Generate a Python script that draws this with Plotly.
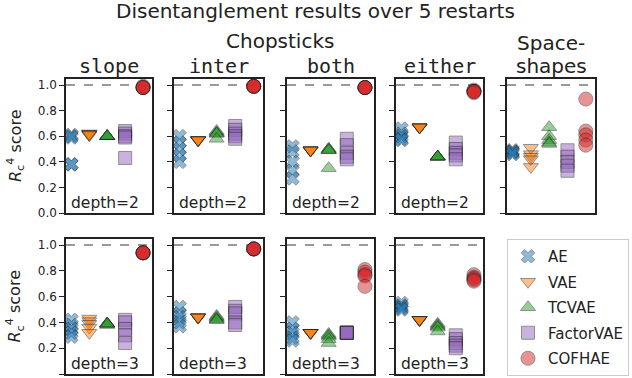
import plotly.graph_objects as go

# ---------------- data ----------------
methods = ["AE", "VAE", "TCVAE", "FactorVAE", "COFHAE"]
row1_titles = ["slope", "inter", "both", "either"]
row1_depth = ["depth=2", "depth=2", "depth=2", "depth=2", ""]
row2_depth = ["depth=3", "depth=3", "depth=3", "depth=3"]

# scores per method (AE, VAE, TCVAE, FactorVAE, COFHAE), 5 restarts each
slope_d2 = [[0.61, 0.60, 0.59, 0.38, 0.38], [0.62, 0.62, 0.61, 0.62, 0.61],
            [0.60, 0.60, 0.60, 0.60, 0.60], [0.64, 0.62, 0.60, 0.59, 0.43],
            [0.98, 0.98, 0.99, 0.98, 0.98]]
inter_d2 = [[0.60, 0.55, 0.50, 0.45, 0.40], [0.57, 0.57, 0.57, 0.57, 0.57],
            [0.64, 0.63, 0.62, 0.62, 0.58], [0.68, 0.65, 0.62, 0.60, 0.58],
            [0.99, 0.99, 0.99, 0.99, 0.99]]
both_d2 = [[0.52, 0.48, 0.40, 0.33, 0.27], [0.49, 0.49, 0.49, 0.49, 0.49],
           [0.50, 0.50, 0.49, 0.49, 0.35], [0.58, 0.53, 0.47, 0.44, 0.42],
           [0.98, 0.98, 0.98, 0.98, 0.98]]
either_d2 = [[0.66, 0.62, 0.60, 0.58, 0.57], [0.67, 0.67, 0.67, 0.67, 0.67],
             [0.44, 0.44, 0.44, 0.44, 0.44], [0.55, 0.50, 0.47, 0.45, 0.42],
             [0.96, 0.95, 0.95, 0.95, 0.94]]
shapes_d2 = [[0.49, 0.48, 0.47, 0.48, 0.46], [0.51, 0.46, 0.44, 0.42, 0.36],
             [0.67, 0.60, 0.57, 0.55, 0.54], [0.49, 0.44, 0.40, 0.37, 0.33],
             [0.89, 0.64, 0.61, 0.57, 0.53]]
slope_d3 = [[0.42, 0.38, 0.35, 0.32, 0.29], [0.43, 0.41, 0.39, 0.36, 0.32],
            [0.39, 0.39, 0.39, 0.38, 0.39], [0.42, 0.40, 0.35, 0.30, 0.24],
            [0.94, 0.94, 0.94, 0.94, 0.94]]
inter_d3 = [[0.52, 0.47, 0.44, 0.40, 0.37], [0.44, 0.44, 0.44, 0.44, 0.44],
            [0.45, 0.44, 0.43, 0.42, 0.42], [0.52, 0.49, 0.47, 0.40, 0.38],
            [0.97, 0.97, 0.97, 0.97, 0.97]]
both_d3 = [[0.40, 0.35, 0.32, 0.28, 0.26], [0.32, 0.32, 0.32, 0.32, 0.32],
           [0.31, 0.30, 0.29, 0.27, 0.24], [0.32, 0.32, 0.32, 0.32, 0.32],
           [0.81, 0.79, 0.77, 0.76, 0.68]]
either_d3 = [[0.55, 0.53, 0.52, 0.51, 0.50], [0.42, 0.42, 0.42, 0.42, 0.42],
             [0.39, 0.38, 0.37, 0.36, 0.33], [0.30, 0.27, 0.24, 0.22, 0.20],
             [0.77, 0.75, 0.74, 0.73, 0.72]]

rows_data = [[slope_d2, inter_d2, both_d2, either_d2, shapes_d2],
             [slope_d3, inter_d3, both_d3, either_d3]]
y_ticks = [0.0, 0.2, 0.4, 0.6, 0.8, 1.0]

# ---------------- style ----------------
colors = ["#1f77b4", "#ff7f0e", "#2ca02c", "#9467bd", "#d62728"]
symbols = ["x", "triangle-down", "triangle-up", "square", "circle"]
sizes = [12, 13, 13, 13, 14]
W, H = 632, 378
col_px = [(66, 152), (174, 263), (287, 374), (396, 483), (507, 595)]
row_px = [(79, 213), (239, 374)]
TXT = "#222222"
FONT = "DejaVu Sans"
MONO = "DejaVu Sans Mono"


def fx(p):
    return p / W


def fy(p):
    return 1 - p / H


def label(text, x, y, size, family=FONT, angle=0):
    return dict(text=text, xref="paper", yref="paper", x=fx(x), y=fy(y),
                xanchor="center", yanchor="middle", showarrow=False, textangle=angle,
                font=dict(family=family, size=size, color=TXT))


fig = go.Figure()
annotations = []
shapes = []
k = 0
for r, panels in enumerate(rows_data):
    for c, pdata in enumerate(panels):
        k += 1
        xa = "x" if k == 1 else f"x{k}"
        ya = "y" if k == 1 else f"y{k}"
        xkey = "xaxis" if k == 1 else f"xaxis{k}"
        ykey = "yaxis" if k == 1 else f"yaxis{k}"
        fig.update_layout({
            xkey: dict(domain=[fx(col_px[c][0]), fx(col_px[c][1])], anchor=ya,
                       range=[-0.3, 4.5], showticklabels=False, ticks="",
                       showgrid=False, zeroline=False, showline=True, mirror=True,
                       linecolor=TXT, linewidth=1.5, automargin=False),
            ykey: dict(domain=[fy(row_px[r][1]), fy(row_px[r][0])], anchor=xa,
                       range=[0, 1.047], tickvals=y_ticks, tickformat=".1f",
                       showticklabels=(c == 0), ticks="outside", ticklen=5,
                       tickwidth=1.2, tickcolor=TXT,
                       tickfont=dict(family=FONT, size=12, color=TXT),
                       showgrid=False, zeroline=False, showline=True, mirror=True,
                       linecolor=TXT, linewidth=1.5, automargin=False),
        })
        shapes.append(dict(type="line", xref=f"{xa} domain", yref=ya, x0=0, x1=1,
                           y0=1.0, y1=1.0, line=dict(color="#9a9a9a", width=2, dash="dash"),
                           layer="below"))
        for m, vals in enumerate(pdata):
            fig.add_trace(go.Scatter(
                x=[m] * len(vals), y=vals, xaxis=xa, yaxis=ya, mode="markers",
                name=methods[m], legendgroup=methods[m], showlegend=(k == 1),
                cliponaxis=False,
                marker=dict(symbol=symbols[m], size=sizes[m], color=colors[m],
                            opacity=0.5, line=dict(color="#222222", width=1)),
            ))
        depth = row1_depth[c] if r == 0 else row2_depth[c]
        if depth:
            annotations.append(dict(text=depth, xref=f"{xa} domain", yref=ya, x=0.03,
                                    y=0.08, xanchor="left", yanchor="middle",
                                    showarrow=False,
                                    font=dict(family=FONT, size=15.5, color=TXT)))
        if r == 0 and c < 4:
            annotations.append(label(row1_titles[c], (col_px[c][0] + col_px[c][1]) / 2,
                                     66, 20, MONO))
    annotations.append(label("<i>R</i><sub>c</sub><sup>4</sup> score", 15,
                             (row_px[r][0] + row_px[r][1]) / 2, 16, angle=-90))

annotations.append(label("Disentanglement results over 5 restarts", 315, 11, 20))
annotations.append(label("Chopsticks", 280, 41, 20))
annotations.append(label("Space-", 551, 43, 20))
annotations.append(label("shapes", 551, 66, 20))

fig.update_layout(
    template="none",
    width=W, height=H, margin=dict(l=0, r=0, t=0, b=0),
    paper_bgcolor="white", plot_bgcolor="white",
    annotations=annotations, shapes=shapes,
    legend=dict(x=fx(507), y=fy(239), xanchor="left", yanchor="top",
                bgcolor="white", bordercolor="#cccccc", borderwidth=1,
                font=dict(family=FONT, size=15, color=TXT), tracegroupgap=3,
                traceorder="grouped"),
)

fig.write_html("out.html", config={"displayModeBar": False},
               post_script="document.body.style.margin='0';document.body.style.overflow='hidden';")
